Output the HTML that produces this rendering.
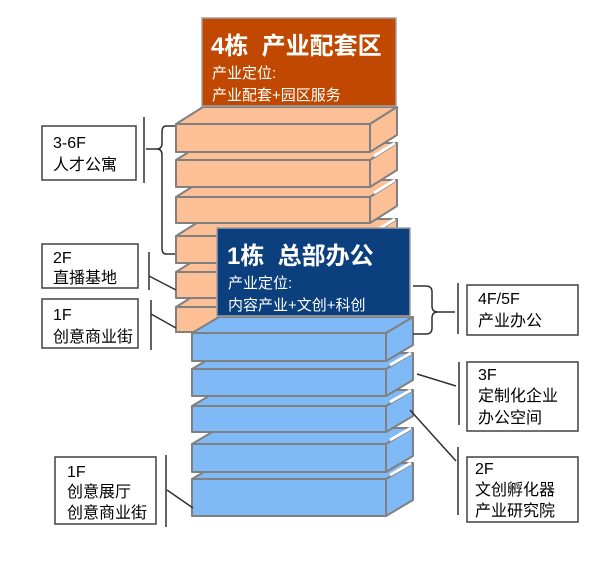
<!DOCTYPE html>
<html><head><meta charset="utf-8"><style>
html,body{margin:0;padding:0;background:#fff;width:600px;height:586px;overflow:hidden}
svg text{font-family:"Liberation Sans","Noto Sans CJK SC",sans-serif}
</style></head><body>
<svg width="600" height="586" viewBox="0 0 600 586" xmlns="http://www.w3.org/2000/svg">
<g stroke="#808080" stroke-width="2" stroke-linejoin="round">
<g fill="#FDBF96">
<polygon points="176,307 203,290 397,290 370,307"/><polygon points="370,307 397,290 397,315 370,332"/><rect x="176" y="307" width="194" height="25"/>
<polygon points="176,272 203,255 397,255 370,272"/><polygon points="370,272 397,255 397,281 370,298"/><rect x="176" y="272" width="194" height="26"/>
<polygon points="176,236 203,219 397,219 370,236"/><polygon points="370,236 397,219 397,246 370,263"/><rect x="176" y="236" width="194" height="27"/>
<polygon points="176,197 203,180 397,180 370,197"/><polygon points="370,197 397,180 397,206 370,223"/><rect x="176" y="197" width="194" height="26"/>
<polygon points="176,160 203,143 397,143 370,160"/><polygon points="370,160 397,143 397,170 370,187"/><rect x="176" y="160" width="194" height="27"/>
<polygon points="176,124 203,107 397,107 370,124"/><polygon points="370,124 397,107 397,135 370,152"/><rect x="176" y="124" width="194" height="28"/>
</g>
<g stroke="#fff" stroke-width="3" fill="none">
<line x1="374" y1="156" x2="395" y2="143"/>
<line x1="374" y1="193" x2="395" y2="180"/>
<line x1="374" y1="232" x2="395" y2="219"/>
<line x1="374" y1="268" x2="395" y2="255"/>
<line x1="374" y1="303" x2="395" y2="290"/>
</g>
<g fill="#7FB9F6">
<polygon points="192,479 219,463 413,463 386,479"/><polygon points="386,479 413,463 413,500 386,516"/><rect x="192" y="479" width="194" height="37"/>
<polygon points="192,444 219,428 413,428 386,444"/><polygon points="386,444 413,428 413,456 386,472"/><rect x="192" y="444" width="194" height="28"/>
<polygon points="192,406 219,390 413,390 386,406"/><polygon points="386,406 413,390 413,416 386,432"/><rect x="192" y="406" width="194" height="26"/>
<polygon points="192,369 219,353 413,353 386,369"/><polygon points="386,369 413,353 413,380 386,396"/><rect x="192" y="369" width="194" height="27"/>
<polygon points="192,333 219,317 413,317 386,333"/><polygon points="386,333 413,317 413,345 386,361"/><rect x="192" y="333" width="194" height="28"/>
</g>
<g stroke="#fff" stroke-width="3" fill="none">
<line x1="390" y1="365" x2="411" y2="353"/>
<line x1="390" y1="402" x2="411" y2="390"/>
<line x1="390" y1="440" x2="411" y2="428"/>
<line x1="390" y1="475" x2="411" y2="463"/>
</g>
</g>
<rect x="202" y="18" width="194" height="88" fill="#C04800" stroke="#A0A0A0" stroke-width="1.5"/>
<text x="211" y="54" fill="#fff" font-size="24" font-weight="bold">4栋&#160;&#160;产业配套区</text>
<text x="212" y="78" fill="#fff" font-size="15">产业定位:</text>
<text x="212" y="100" fill="#fff" font-size="15">产业配套+园区服务</text>
<rect x="217" y="228" width="193" height="88" fill="#0B3F7E" stroke="#A0A0A0" stroke-width="1.5"/>
<text x="227" y="264" fill="#fff" font-size="24" font-weight="bold">1栋&#160;&#160;总部办公</text>
<text x="228" y="288" fill="#fff" font-size="15">产业定位:</text>
<text x="228" y="310" fill="#fff" font-size="15">内容产业+文创+科创</text>
<g fill="#fff" stroke="#404040" stroke-width="1.5">
<rect x="42" y="126" width="94" height="54"/>
<rect x="42" y="244" width="96" height="44"/>
<rect x="42" y="299" width="96" height="49"/>
<rect x="55" y="457" width="101" height="67"/>
<rect x="467" y="285" width="111" height="50"/>
<rect x="467" y="362" width="111" height="69"/>
<rect x="467" y="457" width="111" height="65"/>
</g>
<g fill="#000" font-size="16">
<text x="53" y="148">3-6F</text><text x="53" y="170">人才公寓</text>
<text x="53" y="263">2F</text><text x="53" y="283">直播基地</text>
<text x="53" y="320">1F</text><text x="53" y="342">创意商业街</text>
<text x="67" y="477">1F</text><text x="67" y="497">创意展厅</text><text x="67" y="518">创意商业街</text>
<text x="478" y="304">4F/5F</text><text x="478" y="326">产业办公</text>
<text x="478" y="380">3F</text><text x="478" y="401">定制化企业</text><text x="478" y="423">办公空间</text>
<text x="475" y="474">2F</text><text x="475" y="495">文创孵化器</text><text x="475" y="516">产业研究院</text>
</g>
<g fill="none" stroke="#303030" stroke-width="1.5">
<line x1="144" y1="117" x2="144" y2="183"/>
<path d="M175,126 H166 Q162,126 162,132 V143 Q162,149 157,149 H146 M157,149 Q162,149 162,155 V248 Q162,254 166,254 H175"/>
<line x1="149" y1="252" x2="149" y2="290"/><line x1="149" y1="276" x2="176" y2="290"/>
<line x1="151" y1="300" x2="151" y2="350"/><line x1="151" y1="314" x2="176" y2="328"/>
<line x1="166" y1="455" x2="166" y2="527"/><line x1="167" y1="490" x2="193" y2="508"/>
<line x1="458" y1="283" x2="458" y2="334"/>
<path d="M413,286 H426 Q432,286 432,292 V306 Q432,312 438,312 H455 M438,312 Q432,312 432,318 V328 Q432,334 426,334 H413"/>
<line x1="459" y1="362" x2="459" y2="425"/><line x1="417" y1="374" x2="456" y2="386"/>
<line x1="458" y1="447" x2="458" y2="515"/><line x1="410" y1="410" x2="456" y2="461"/>
</g>
</svg>
</body></html>
